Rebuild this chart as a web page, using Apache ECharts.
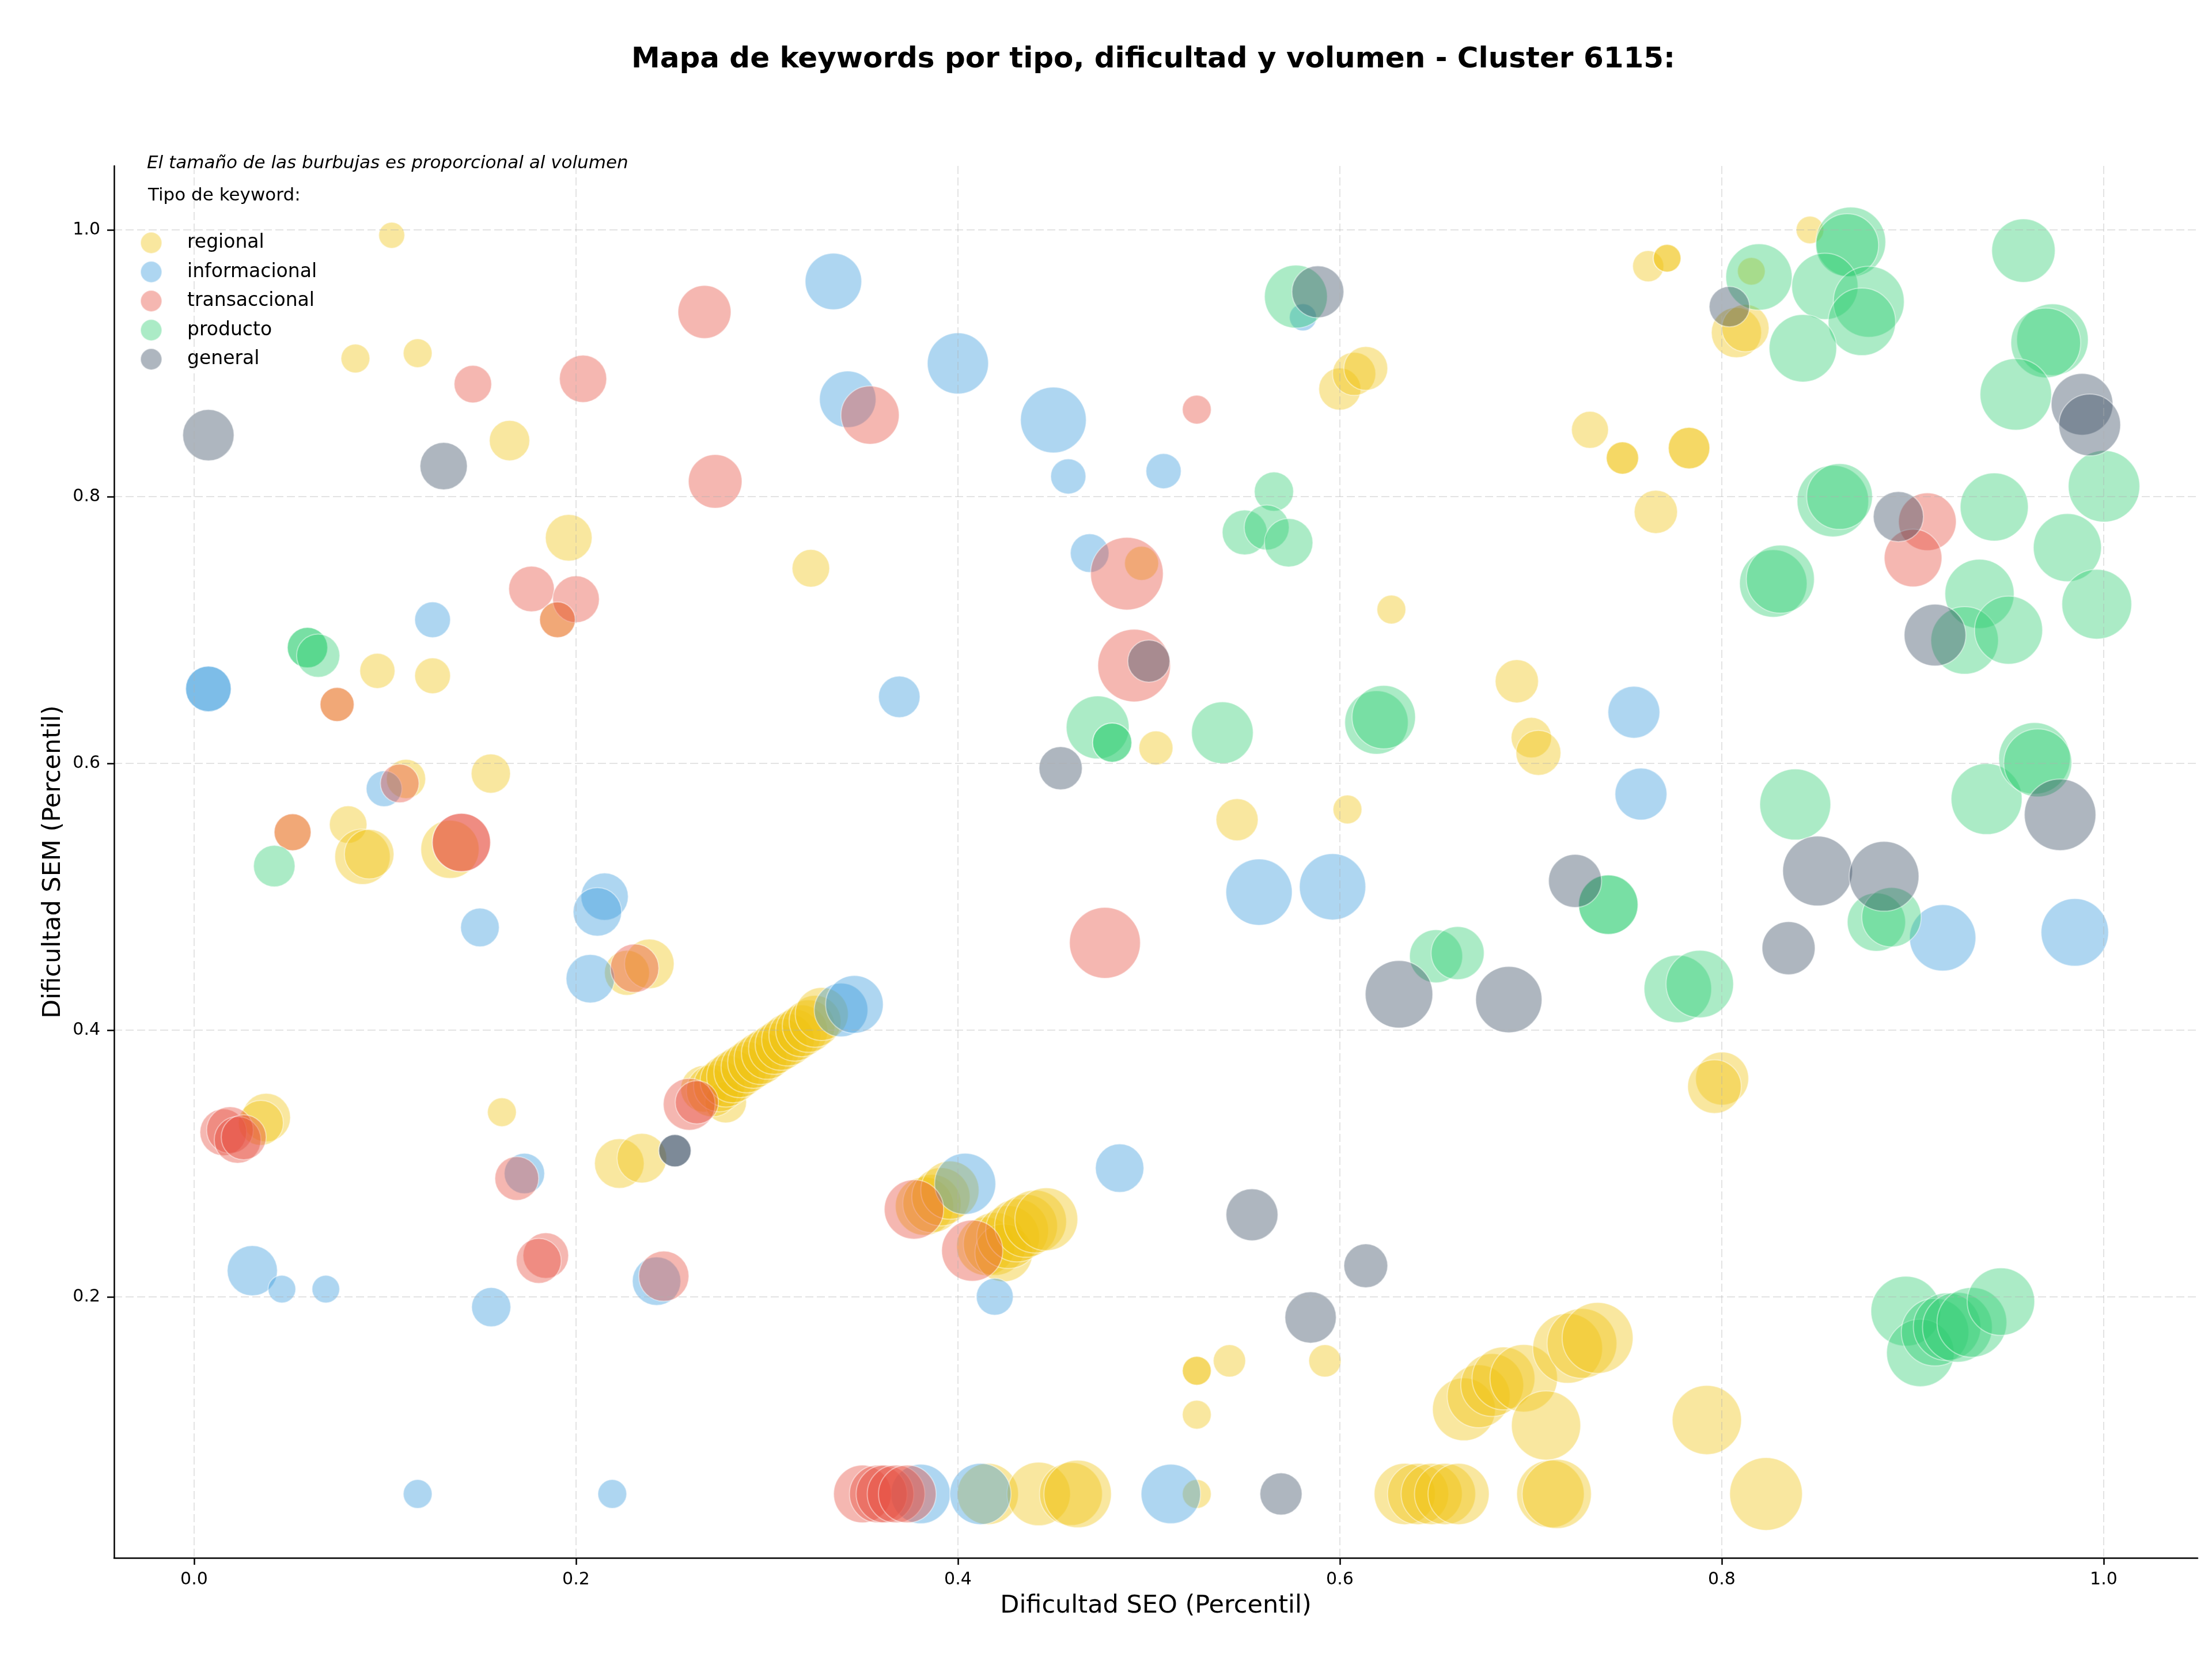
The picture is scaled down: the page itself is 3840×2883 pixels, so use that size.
<!DOCTYPE html>
<html>
<head>
<meta charset="utf-8">
<style>html,body{margin:0;padding:0;background:#fff}#chart{width:3840px;height:2883px}</style>
<script src="https://cdn.jsdelivr.net/npm/echarts@6/dist/echarts.min.js"></script>
</head>
<body>
<div id="chart"></div>
<script>
// [dificultad SEO, dificultad SEM, volumen]
const regional = [
  [0.1035,0.996,203],[0.0845,0.9036,250],[0.1171,0.9076,250],[0.1652,0.8421,490],[0.1962,0.7692,656],
  [0.1903,0.7077,384],[0.096,0.6694,372],[0.1249,0.6657,384],[0.0749,0.6442,348],[0.1554,0.5924,462],
  [0.111,0.5884,462],[0.0516,0.5484,410],[0.0807,0.5541,423],[0.0882,0.530,922],[0.0917,0.532,740],
  [0.134,0.5356,1020],[0.2267,0.443,608],[0.2384,0.4497,740],[0.1612,0.3385,250],[0.0378,0.3345,706],
  [0.035,0.3305,608],[0.2227,0.300,740],[0.2345,0.304,740],[0.323,0.7463,423],[0.4962,0.75,348],
  [0.627,0.7154,250],[0.5037,0.6116,348],[0.5462,0.5578,533],[0.604,0.5655,250],[0.6,0.8807,533],
  [0.6075,0.8921,562],[0.6136,0.8962,578],[0.7615,0.9728,292],[0.7714,0.9788,230],[0.7714,0.9788,230],
  [0.8462,1.0,230],[0.8155,0.969,230],[0.8077,0.923,757],[0.8124,0.9264,672],[0.731,0.8501,410],
  [0.748,0.829,314],[0.748,0.829,314],[0.7829,0.8364,518],[0.7829,0.8364,518],[0.7655,0.7886,562],
  [0.6927,0.6616,562],[0.7003,0.6193,490],[0.704,0.6079,608],[0.8002,0.3637,846],[0.7962,0.3577,865],
  [0.267,0.356,650],[0.2784,0.346,520],
  [0.2714,0.3545,810],[0.2750,0.3580,790],[0.2786,0.3618,810],[0.2822,0.3652,830],[0.2858,0.3688,810],
  [0.2894,0.3722,790],[0.2930,0.3758,810],[0.2966,0.3790,830],[0.3002,0.3826,810],[0.3038,0.3860,790],
  [0.3074,0.3893,810],[0.3110,0.3928,830],[0.3146,0.3962,810],[0.3182,0.3995,810],[0.3218,0.4030,830],
  [0.3252,0.4066,810],[0.3287,0.4121,846],
  [0.3825,0.268,1020],[0.3864,0.270,1020],[0.3911,0.275,1020],[0.3958,0.280,1020],
  [0.4146,0.2380,1020],[0.4193,0.2397,1188],[0.4240,0.2330,1000],[0.4263,0.2448,1188],[0.431,0.2498,1188],
  [0.4357,0.2532,1188],[0.4404,0.2565,1188],[0.4463,0.2582,1188],
  [0.5422,0.152,314],[0.5922,0.152,314],[0.5251,0.1446,250],[0.5251,0.1446,250],[0.5251,0.1117,250],
  [0.4157,0.0522,1124],[0.4423,0.0522,1210],[0.4592,0.0522,1188],[0.4627,0.0522,1369],[0.5251,0.0522,250],
  [0.634,0.0522,1124],[0.641,0.0522,1124],[0.6481,0.0522,1124],[0.6551,0.0522,1124],[0.6622,0.0522,1124],
  [0.7103,0.0522,1369],[0.7136,0.0522,1440],[0.8232,0.0522,1588],
  [0.665,0.1157,1188],[0.6727,0.1255,1188],[0.6798,0.1339,1188],[0.6857,0.1389,1188],[0.6963,0.139,1369],
  [0.708,0.1036,1440],[0.7193,0.1614,1464],[0.7268,0.1651,1464],[0.735,0.1692,1513],[0.7922,0.1077,1440]
];
const informacional = [
  [0.3348,0.9614,960],[0.400,0.8999,1124],[0.3423,0.873,960],[0.4500,0.8575,1300],[0.4578,0.8152,372],
  [0.5077,0.8192,372],[0.5807,0.9345,221],[0.469,0.7577,449],[0.3693,0.6499,518],[0.1249,0.7077,384],
  [0.0075,0.6559,624],[0.0075,0.6559,624],[0.0995,0.581,384],[0.215,0.5001,672],[0.2112,0.4887,706],
  [0.1497,0.477,449],[0.2075,0.4386,706],[0.3388,0.4151,865],[0.3458,0.4193,1000],[0.173,0.2925,490],
  [0.0305,0.2196,757],[0.046,0.2058,230],[0.069,0.2058,230],[0.1556,0.1923,462],[0.2422,0.2118,706],
  [0.1171,0.0522,250],[0.219,0.0522,250],[0.4038,0.2848,1124],[0.4193,0.2001,410],[0.4847,0.2965,706],
  [0.5577,0.5035,1322],[0.5962,0.5075,1322],[0.754,0.6384,810],[0.7577,0.577,810],[0.9157,0.4692,1322],
  [0.9849,0.4733,1369],[0.3805,0.0522,1061],[0.4118,0.0522,1124],[0.5115,0.0522,1061]
];
const transaccional = [
  [0.146,0.8844,423],[0.2037,0.8884,672],[0.2673,0.9385,846],[0.2729,0.8115,865],[0.1767,0.7308,624],
  [0.2000,0.7231,656],[0.1903,0.7077,384],[0.0749,0.6442,348],[0.1077,0.585,449],[0.0516,0.5484,410],
  [0.140,0.5407,1020],[0.140,0.5407,1020],[0.2307,0.4464,706],[0.2593,0.3444,810],[0.2633,0.3459,562],
  [0.0153,0.3234,656],[0.0188,0.3251,656],[0.0228,0.3177,656],[0.026,0.3197,608],[0.169,0.2888,578],
  [0.1842,0.231,624],[0.1805,0.227,608],[0.246,0.2155,757],[0.354,0.8612,1020],[0.5251,0.8653,250],
  [0.4885,0.7423,1588],[0.4923,0.6734,1588],[0.477,0.4655,1513],[0.377,0.2656,1061],[0.4075,0.2347,1124],
  [0.9077,0.7812,1000],[0.9002,0.754,1000],
  [0.35,0.0522,1000],[0.3583,0.0522,1000],[0.3618,0.0522,1000],[0.3676,0.0522,1000],[0.3735,0.0522,1000]
];
const producto = [
  [0.0594,0.6868,490],[0.0594,0.6868,490],[0.065,0.6808,562],[0.042,0.523,518],[0.577,0.95,1188],
  [0.5655,0.8038,462],[0.5502,0.7732,608],[0.5617,0.7769,608],[0.5732,0.7655,706],[0.4732,0.627,1188],
  [0.4808,0.6156,462],[0.4808,0.6156,462],[0.5385,0.623,1145],[0.6192,0.6307,1210],[0.623,0.6347,1210],
  [0.6504,0.4554,846],[0.6617,0.4578,846],[0.7406,0.4941,1061],[0.7406,0.4941,1061],[0.777,0.4309,1369],
  [0.7885,0.4346,1369],[0.881,0.481,1020],[0.8889,0.4847,1061],
  [0.8964,0.1893,1464],[0.904,0.158,1369],[0.9117,0.1735,1369],[0.918,0.1776,1369],[0.9234,0.1772,1464],
  [0.931,0.1809,1464],[0.9462,0.1964,1369],
  [0.8195,0.9647,1322],[0.8676,0.991,1464],[0.8657,0.9886,1188],[0.854,0.9577,1322],[0.877,0.9462,1513],
  [0.8734,0.9311,1369],[0.8425,0.9113,1369],[0.958,0.9845,1210],[0.9732,0.9177,1538],[0.9697,0.9153,1464],
  [0.954,0.8767,1538],[1.0002,0.8078,1538],[0.8582,0.7967,1538],[0.8617,0.8001,1300],[0.9427,0.7923,1392],
  [0.981,0.7618,1392],[0.9964,0.7194,1464],[0.827,0.7349,1369],[0.8307,0.7382,1392],[0.935,0.7271,1440],
  [0.9272,0.6922,1369],[0.9502,0.6999,1392],[0.8385,0.5692,1513],[0.9387,0.5733,1513],[0.9638,0.6038,1538],
  [0.9655,0.6004,1392]
];
const general = [
  [0.0075,0.8461,792],[0.1307,0.8229,672],[0.5885,0.9536,810],[0.5,0.6767,533],[0.4538,0.5964,562],
  [0.2518,0.3096,314],[0.2518,0.3096,314],[0.554,0.2616,810],[0.6136,0.2233,578],[0.5847,0.1846,792],
  [0.5692,0.0522,533],[0.631,0.4269,1369],[0.6885,0.4229,1322],[0.7232,0.5119,846],[0.8502,0.5193,1464],
  [0.885,0.5153,1464],[0.835,0.4615,846],[0.804,0.9425,490],[0.9887,0.8693,1145],[0.9927,0.8538,1145],
  [0.8925,0.785,757],[0.9117,0.6962,1145],[0.9772,0.5615,1538]
];
const tickValuesX = [0, 0.2, 0.4, 0.6, 0.8, 1.0];
const tickValuesY = [0.2, 0.4, 0.6, 0.8, 1.0];

const types = [
  {name:'regional', data: regional, color:'rgba(241,196,15,0.5)'},
  {name:'informacional', data: informacional, color:'rgba(52,152,219,0.5)'},
  {name:'transaccional', data: transaccional, color:'rgba(231,76,60,0.5)'},
  {name:'producto', data: producto, color:'rgba(46,204,113,0.5)'},
  {name:'general', data: general, color:'rgba(52,73,94,0.5)'}
];

const FONT = 'DejaVu Sans';
const gridLine = {show:true, lineStyle:{color:'rgba(176,176,176,0.35)', width:2, type:[14,6]}};

const chart = echarts.init(document.getElementById('chart'), null, {renderer:'canvas'});
chart.setOption({
  animation: false,
  backgroundColor: '#fff',
  textStyle: {fontFamily: FONT},
  title: [
    {text:'Mapa de keywords por tipo, dificultad y volumen - Cluster 6115:', left:1997, top:74, textAlign:'center',
     textStyle:{fontFamily:FONT, fontSize:50, fontWeight:'bold', color:'#000'}},
    {text:'El tamaño de las burbujas es proporcional al volumen', left:250, top:263,
     textStyle:{fontFamily:FONT, fontSize:31, fontStyle:'italic', fontWeight:'normal', color:'#000'}},
    {text:'Tipo de keyword:', left:252, top:319,
     textStyle:{fontFamily:FONT, fontSize:31, fontWeight:'normal', color:'#000'}}
  ],
  legend: {
    orient:'vertical', left:243, top:402, itemWidth:37, itemHeight:37, itemGap:11.5, icon:'circle',
    padding:0,
    textStyle:{fontFamily:FONT, fontSize:33, color:'#000', padding:[0,0,0,39]},
    data: types.map(t => t.name)
  },
  grid: {left:198, right:25, top:288, bottom:179, containLabel:false},
  xAxis: {
    type:'value', min:-0.0419, max:1.0492, z:5,
    name:'Dificultad SEO (Percentil)', nameLocation:'middle', nameGap:62,
    nameTextStyle:{fontFamily:FONT, fontSize:43, color:'#000'},
    axisLine:{show:true, onZero:false, lineStyle:{color:'#000', width:2.5}},
    axisTick:{show:true, length:12, customValues:tickValuesX, lineStyle:{color:'#000', width:2.5}},
    axisLabel:{customValues:tickValuesX, margin:23, fontSize:30, color:'#000', fontFamily:FONT,
      formatter: v => v.toFixed(1)},
    splitLine: gridLine
  },
  yAxis: {
    type:'value', min:0.0043, max:1.048, z:5,
    name:'Dificultad SEM (Percentil)', nameLocation:'middle', nameGap:84, nameRotate:90,
    nameTextStyle:{fontFamily:FONT, fontSize:43, color:'#000'},
    axisLine:{show:true, onZero:false, lineStyle:{color:'#000', width:2.5}},
    axisTick:{show:true, length:12, customValues:tickValuesY, lineStyle:{color:'#000', width:2.5}},
    axisLabel:{customValues:tickValuesY, margin:24, fontSize:30, color:'#000', fontFamily:FONT,
      formatter: v => v.toFixed(1)},
    splitLine: gridLine
  },
  series: types.map(t => ({
    name: t.name, type:'scatter', data: t.data,
    symbolSize: d => Math.sqrt(d[2] * 10),
    itemStyle:{color:t.color, borderColor:'rgba(255,255,255,0.55)', borderWidth:2},
    emphasis:{disabled:true}, silent:true
  }))
});
</script>
</body>
</html>
